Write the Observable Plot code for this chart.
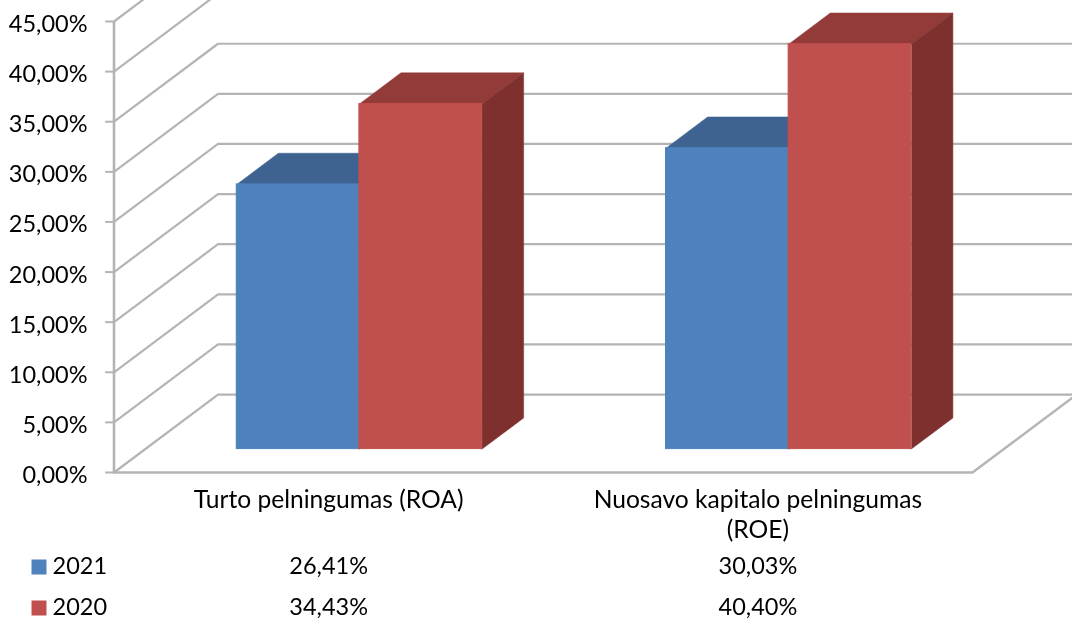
<!DOCTYPE html>
<html><head><meta charset="utf-8">
<script src="https://cdn.jsdelivr.net/npm/d3@7"></script>
<script src="https://cdn.jsdelivr.net/npm/@observablehq/plot@0.6"></script>
<style>html,body{margin:0;padding:0;background:#fff}svg{display:block;overflow:hidden;filter:blur(0.45px)}</style>
</head><body><div id="chart"></div>
<script>
const categories = ["Turto pelningumas (ROA)", "Nuosavo kapitalo pelningumas\n(ROE)"];
const years = ["2021", "2020"];
const values2021 = [26.41, 30.03];
const values2020 = [34.43, 40.40];
const yTicks = [0, 5, 10, 15, 20, 25, 30, 35, 40, 45];
const front = ["#4F81BD", "#C0504D"];
const topFace = ["#3E6391", "#933B39"];
const sideFace = ["#3A5C86", "#7D302E"];
const gridColor = "#b4b4b4";
const font = "Lato, Carlito, sans-serif";
const fs = 23.5, catFs = 24.6;

// oblique projection of the depth axis, in scale units per unit of depth
const depthX = 0.2423, depthY = 7.78;
const zFront = 0.3, zBack = 0.7;
const barW = 1 / 3.5, barShift = -0.001;
const P = (u, v, z = 0) => ({x: u + z * depthX, y: v + z * depthY});
const fmt = v => v.toFixed(2).replace(".", ",") + "%";

const series = [values2021, values2020];
const marks = [];

// walls and floor
const grid = yTicks.map(t => [P(0, t), P(0, t, 1), P(2, t, 1)]);
grid.forEach(g => marks.push(Plot.line(g, {x: "x", y: "y", stroke: gridColor, strokeWidth: 2.2})));
marks.push(Plot.line([P(0, 0), P(2, 0), P(2, 0, 1)], {x: "x", y: "y", stroke: gridColor, strokeWidth: 2.4}));
marks.push(Plot.ruleX([0], {y1: 0, y2: 45, stroke: gridColor, strokeWidth: 2.6}));
marks.push(Plot.ruleY(yTicks, {x1: -0.0195, x2: 0, stroke: gridColor, strokeWidth: 2}));
marks.push(Plot.axisY(yTicks, {tickSize: 0, tickPadding: 26.5, dy: 3, fill: "#000", fontSize: fs, fontFamily: font, tickFormat: fmt, label: null}));

// bars
const poly = (pts, color) => Plot.line(pts, {x: "x", y: "y", fill: color, stroke: color, strokeWidth: 0.5});
series.forEach((vals, s) => vals.forEach((v, c) => {
  const u0 = c + 0.5 + barShift - barW + s * barW, u1 = u0 + barW;
  marks.push(poly([P(u0, v, zFront), P(u0, v, zBack), P(u1, v, zBack), P(u1, v, zFront)], topFace[s]));
  marks.push(poly([P(u1, 0, zFront), P(u1, 0, zBack), P(u1, v, zBack), P(u1, v, zFront)], sideFace[s]));
  const a = P(u0, 0, zFront), b = P(u1, v, zFront);
  marks.push(Plot.rect([0], {x1: a.x, x2: b.x, y1: a.y, y2: b.y, fill: front[s], stroke: front[s], strokeWidth: 1}));
}));

// category labels
marks.push(Plot.text(categories, {x: (d, i) => i + 0.5, y: () => 0, text: d => d, dy: 15, lineAnchor: "top", lineHeight: 1.19, fontSize: catFs, fontFamily: font, fill: "#000"}));

// data table
const rowDy = [94, 135];
series.forEach((vals, s) => {
  marks.push(Plot.dot([years[s]], {x: () => 0, y: () => 0, dx: -75, dy: rowDy[s] + 0.5, r: 8.46, symbol: "square", fill: front[s], stroke: "none"}));
  marks.push(Plot.text([years[s]], {x: () => 0, y: () => 0, dx: -61.5, dy: rowDy[s], text: d => d, textAnchor: "start", fontSize: fs, fontFamily: font, fill: "#000"}));
  marks.push(Plot.text(vals, {x: (d, i) => i + 0.5, y: () => 0, dy: rowDy[s], text: fmt, fontSize: fs, fontFamily: font, fill: "#000"}));
});

const chart = Plot.plot({
  width: 1072, height: 620,
  marginLeft: 113.5, marginRight: 100, marginTop: 21, marginBottom: 148,
  x: {domain: [0, 2], axis: null},
  y: {domain: [0, 45], axis: null},
  style: {background: "#fff"},
  marks
});
document.getElementById("chart").appendChild(chart);
</script></body></html>
